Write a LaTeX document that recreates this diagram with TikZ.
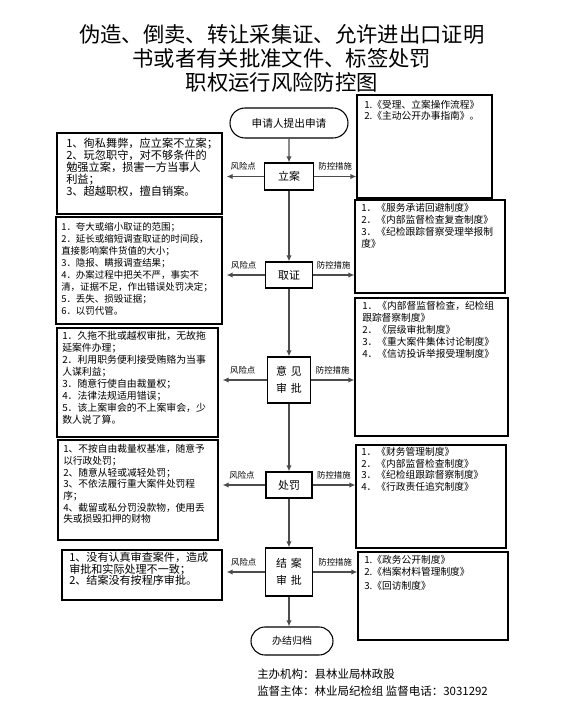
\documentclass[tikz,border=0pt]{standalone}
\usepackage{fontspec}
\setmainfont{Noto Sans CJK SC}
\usetikzlibrary{arrows.meta,shapes.misc,fit}
\begin{document}
\begin{tikzpicture}[x=0.75pt,y=-0.75pt,
  box/.style={draw=black,line width=0.9pt,inner sep=0pt},
  cbox/.style={draw=black,line width=0.8pt,inner sep=0pt,align=center,font=\fontsize{8.2}{13}\selectfont},
  term/.style={draw=black,line width=0.8pt,rounded rectangle,inner sep=0pt,font=\fontsize{8}{10}\selectfont},
  txt/.style={anchor=north west,inner sep=0pt,align=left},
  arr/.style={draw=black!70,line width=1pt,-{Latex[length=4.5pt,width=4pt]}},
  lab/.style={font=\fontsize{6.3}{7}\selectfont,inner sep=0pt}]
\path[fill=white] (0,0) rectangle (572,708);
\useasboundingbox (0,0) rectangle (572,708);

% title
\node[align=center,font=\fontsize{16}{18}\selectfont] (title) at (282,58)
  {伪造、倒卖、转让采集证、允许进出口证明\\书或者有关批准文件、标签处罚\\职权运行风险防控图};

% main flow nodes
\node[term,minimum width=88.5pt,minimum height=22.5pt] (start) at (289,123) {申请人提出申请};
\node[cbox,minimum width=36.75pt,minimum height=20.25pt] (c1) at (289,176.5) {立案};
\node[cbox,minimum width=35.25pt,minimum height=19.5pt] (c2) at (289,275) {取证};
\node[cbox,minimum width=32.25pt,minimum height=34.5pt] (c3) at (289,380) {意\hspace{0.35em}见\\审\hspace{0.35em}批};
\node[cbox,minimum width=34.5pt,minimum height=19.5pt] (c4) at (289,485) {处罚};
\node[cbox,minimum width=35.25pt,minimum height=36pt] (c5) at (289,572) {结\hspace{0.35em}案\\审\hspace{0.35em}批};
\node[term,minimum width=61.5pt,minimum height=21pt,font=\fontsize{7.5}{9}\selectfont] (end) at (292,641) {办结归档};

% left boxes
\node[box,fit={(57,133) (222,214)}] (L1) {};
\node[box,fit={(56,217) (222,324)}] (L2) {};
\node[box,fit={(57,328) (218,437)}] (L3) {};
\node[box,fit={(58,440) (218,540)}] (L4) {};
\node[box,fit={(62,550) (222,600)}] (L5) {};
% right boxes
\node[box,fit={(357,95) (492,198)}] (R1) {};
\node[box,fit={(355,200) (505,293)}] (R2) {};
\node[box,fit={(355,298) (508,436)}] (R3) {};
\node[box,fit={(356,445) (506,548)}] (R4) {};
\node[box,fit={(358,552) (508,640)}] (R5) {};

% left texts
\node[txt,font=\fontsize{8.4}{9}\selectfont] (L1t) at (66,138)
 {1、徇私舞弊，应立案不立案；\\2、玩忽职守，对不够条件的\\勉强立案，损害一方当事人\\利益；\\3、超越职权，擅自销案。};
\node[txt,font=\fontsize{7.1}{9}\selectfont] (L2t) at (61,222)
 {1．夸大或缩小取证的范围；\\2．延长或缩短调查取证的时间段，\\直接影响案件货值的大小；\\3．隐报、瞒报调查结果；\\4．办案过程中把关不严，事实不\\清，证据不足，作出错误处罚决定；\\5．丢失、损毁证据；\\6．以罚代管。};
\node[txt,font=\fontsize{7.4}{9}\selectfont] (L3t) at (62,331)
 {1．久拖不批或越权审批，无故拖\\延案件办理；\\2．利用职务便利接受贿赂为当事\\人谋利益；\\3．随意行使自由裁量权；\\4．法律法规适用错误；\\5．该上案审会的不上案审会，少\\数人说了算。};
\node[txt,font=\fontsize{7.3}{8.8}\selectfont] (L4t) at (63,444)
 {1、不按自由裁量权基准，随意予\\以行政处罚；\\2、随意从轻或减轻处罚；\\3、不依法履行重大案件处罚程\\序；\\4、截留或私分罚没款物，使用丢\\失或损毁扣押的财物};
\node[txt,font=\fontsize{8.3}{8.6}\selectfont] (L5t) at (69,552)
 {1、没有认真审查案件，造成\\审批和实际处理不一致；\\2、结案没有按程序审批。};

% right texts
\node[txt,font=\fontsize{7.3}{8}\selectfont] (R1t) at (364,100)
 {1.《受理、立案操作流程》\\2.《主动公开办事指南》。};
\node[txt,font=\fontsize{7.3}{9}\selectfont] (R2t) at (361,203)
 {1．《服务承诺回避制度》\\2．《内部监督检查复查制度》\\3．《纪检跟踪督察受理举报制\\度》};
\node[txt,font=\fontsize{7.3}{9}\selectfont] (R3t) at (362,301)
 {1．《内部督监督检查，纪检组\\跟踪督察制度》\\2．《层级审批制度》\\3．《重大案件集体讨论制度》\\4．《信访投诉举报受理制度》};
\node[txt,font=\fontsize{7.3}{8.8}\selectfont] (R4t) at (361,447)
 {1．《财务管理制度》\\2．《内部监督检查制度》\\3．《纪检组跟踪督察制度》\\4．《行政责任追究制度》};
\node[txt,font=\fontsize{7.3}{9}\selectfont] (R5t) at (364,555)
 {1.《政务公开制度》\\2.《档案材料管理制度》\\[1.5pt]3.《回访制度》};

% footer
\node[txt,font=\fontsize{8.6}{12.75}\selectfont] (foot) at (257,669)
 {主办机构：县林业局林政股\\监督主体：林业局纪检组 监督电话：3031292};

% vertical flow
\draw[arr] (start) -- (c1);
\draw[arr] (c1) -- (c2);
\draw[arr] (c2) -- (c3);
\draw[arr] (c3) -- (c4);
\draw[arr] (c4) -- (c5);
\draw[arr] (c5.south) -- (c5.south |- end.north);

% side arrows
\foreach \c/\l/\r in {c1/L1/R1,c2/L2/R2,c3/L3/R3,c4/L4/R4,c5/L5/R5}{
  \draw[arr,shorten >=3pt] (\c.west) -- (\c.west -| \l.east) node[midway,above=4pt,lab] {风险点};
  \draw[arr] (\c.east) -- (\c.east -| \r.west) node[midway,above=4pt,lab] {防控措施};
}
\end{tikzpicture}
\end{document}
